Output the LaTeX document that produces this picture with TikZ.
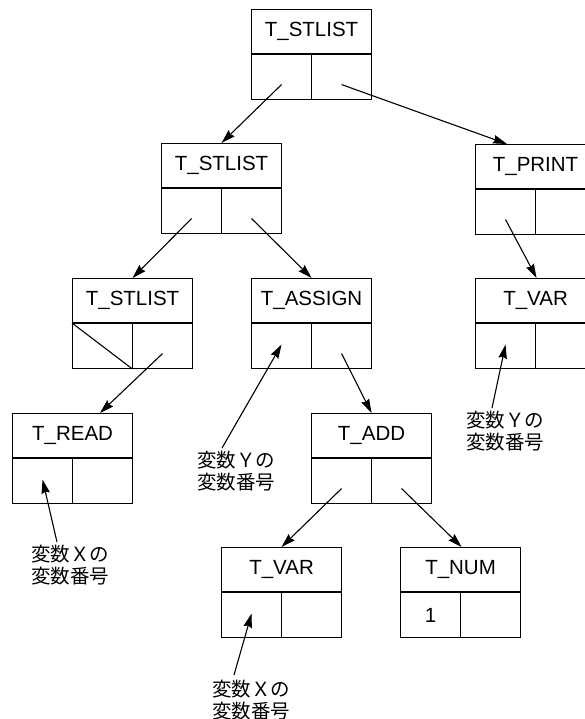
\documentclass[tikz,border=0pt]{standalone}
\usepackage{fontspec}
\setmainfont{Liberation Sans}
\newfontfamily\cjk{Noto Sans CJK JP}
\usetikzlibrary{arrows.meta}
\tikzset{
  boxnode/.style={draw, line width=1.1pt, minimum width=120pt, minimum height=90pt, anchor=north west, inner sep=0pt},
  lbl/.style={font=\fontsize{20.5}{22}\selectfont, inner sep=0pt},
  note/.style={font=\cjk\fontsize{19.5}{21.5}\selectfont, align=center, inner sep=0pt},
  line/.style={line width=1.1pt},
  arr/.style={line width=1.1pt, -{Stealth[length=14pt,width=8.5pt,inset=1.5pt]}}
}
\newcommand\mybox[4]{%
  \node[boxnode] (#1) at (#2,#3) {};
  \draw[line] ([yshift=-45pt]#1.north west) -- ([yshift=-45pt]#1.north east);
  \draw[line] ([yshift=-45pt]#1.north) -- (#1.south);
  \node[lbl] (#1t) at ([yshift=-22.5pt]#1.north) {#4};
  \coordinate (#1L) at ([xshift=-30pt,yshift=-30pt]#1.center);
  \coordinate (#1R) at ([xshift=30pt,yshift=-30pt]#1.center);
  \coordinate (#1P) at ([xshift=-30pt,yshift=-21pt]#1.center);
}
\begin{document}
\begin{tikzpicture}[x=1pt,y=-1pt]
\clip (0,0) rectangle (585,719);
\mybox{A}{251}{9}{T\_STLIST}
\mybox{B}{161}{143}{T\_STLIST}
\mybox{C}{475}{144}{T\_PRINT}
\mybox{D}{72}{278}{T\_STLIST}
\mybox{E}{251}{278}{T\_ASSIGN}
\mybox{F}{475}{278}{T\_VAR}
\mybox{G}{12}{413}{T\_READ}
\mybox{H}{311}{413}{T\_ADD}
\mybox{I}{221}{547}{T\_VAR}
\mybox{J}{400}{547}{T\_NUM}
\node[lbl] (Jv) at ([yshift=-22.5pt,xshift=-30pt]J.center) {1};
% null pointer diagonal
\draw[line] ([yshift=-45pt]D.north west) -- (D.south);
% tree connectors
\draw[arr] (AL) -- (B.north);
\draw[arr] (AR) -- ([xshift=32pt]C.north west);
\draw[arr] (BL) -- (D.north);
\draw[arr] (BR) -- (E.north);
\draw[arr] (CL) -- ([xshift=1pt]F.north);
\draw[arr] (DR) -- ([xshift=88pt]G.north west);
\draw[arr] (ER) -- (H.north);
\draw[arr] (HL) -- (I.north);
\draw[arr] (HR) -- ([xshift=1pt]J.north);
% notes
\node[note] (nG) at (70,565) {変数Ｘの\\変数番号};
\node[note] (nE) at (236,471) {変数Ｙの\\変数番号};
\node[note] (nF) at (505,431) {変数Ｙの\\変数番号};
\node[note] (nI) at (251,700) {変数Ｘの\\変数番号};
\draw[arr] ([xshift=-13pt,yshift=3pt]nG.north) -- (GP);
\draw[arr] ([xshift=-14pt,yshift=3pt]nE.north) -- (EP);
\draw[arr] ([xshift=-13pt,yshift=3pt]nF.north) -- (FP);
\draw[arr] ([xshift=-17pt,yshift=5pt]nI.north) -- (IP);
\end{tikzpicture}
\end{document}
